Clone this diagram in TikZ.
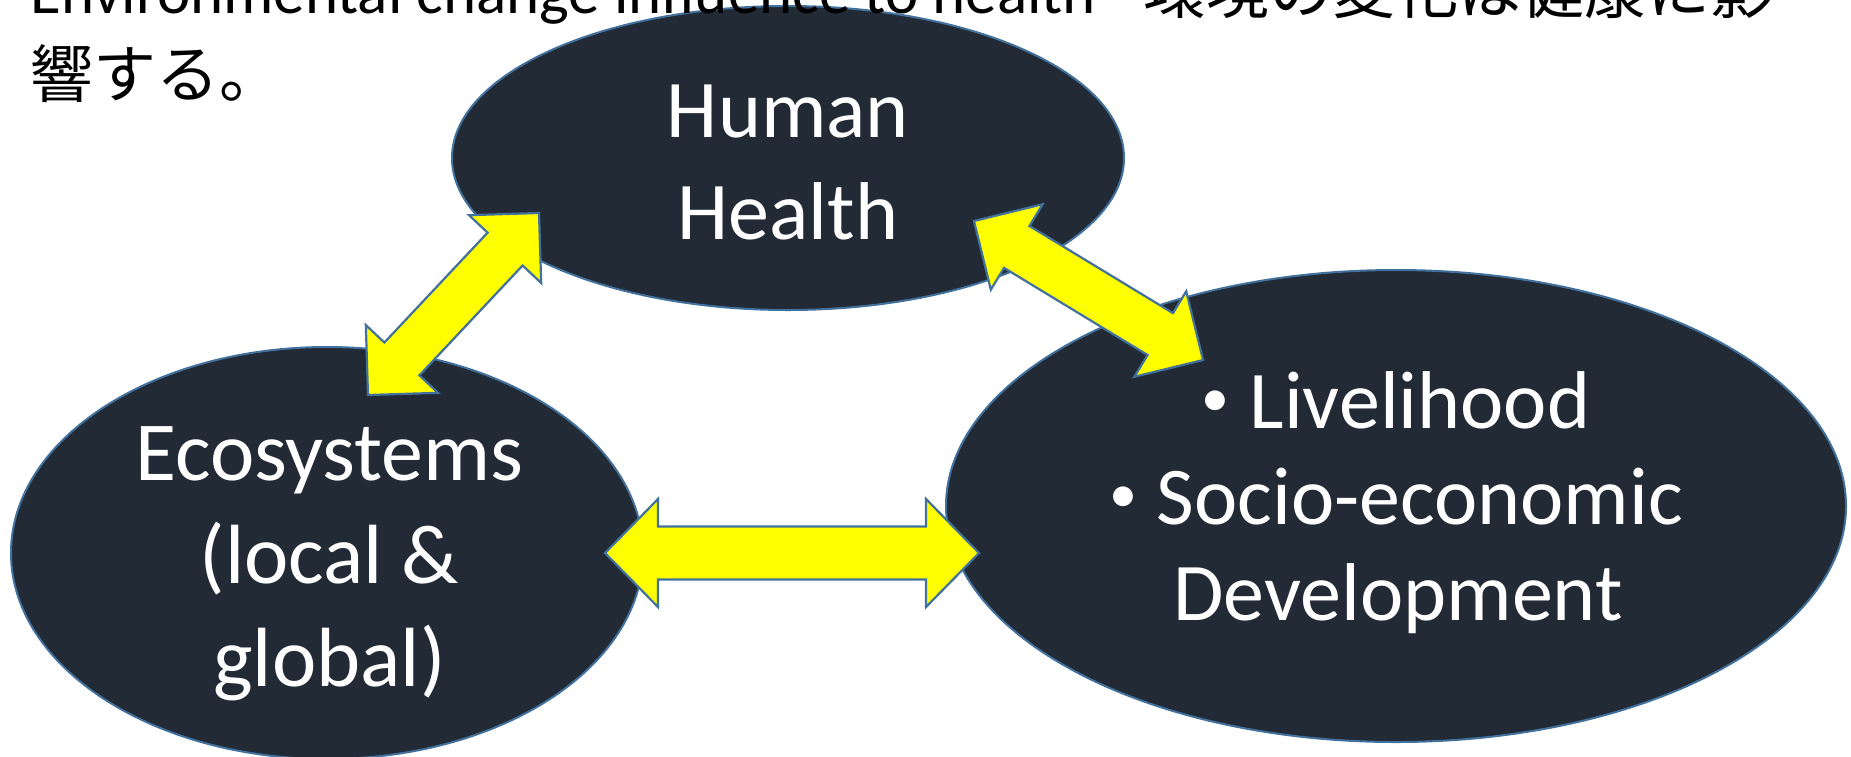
\documentclass[tikz,border=0pt]{standalone}
\usepackage{fontspec}
\setmainfont{Carlito}
\newfontfamily\cjk{Noto Sans CJK JP}
\usetikzlibrary{calc,shapes.geometric}
\definecolor{ellfill}{HTML}{222A35}
\definecolor{edgeblue}{HTML}{41719C}
\definecolor{arrowyellow}{HTML}{FFFF00}
\tikzset{
  ell/.style={ellipse, draw=edgeblue, line width=1pt, fill=ellfill, inner sep=0pt},
  fatarrow/.style={draw=edgeblue, line width=1.1pt, fill=arrowyellow, line join=miter},
  elltext/.style={text=white, align=center, anchor=base, inner sep=0pt, font={\fontsize{41pt}{51pt}\selectfont}},
  titletext/.style={text=black, align=left, anchor=base west, inner sep=0pt, font={\fontsize{31.5pt}{42pt}\selectfont}}
}
\newcommand\bulletmark{\makebox[10pt]{\fontsize{28pt}{28pt}\selectfont\raisebox{6pt}{•}}\hspace{12pt}}
\newcommand\dblarrow[5]{%
  \draw[fatarrow] (#1)
    -- ($(#1)!#3!(#2)!#4!90:(#2)$)
    -- ($(#1)!#3!(#2)!#5!90:(#2)$)
    -- ($(#2)!#3!(#1)!#5!-90:(#1)$)
    -- ($(#2)!#3!(#1)!#4!-90:(#1)$)
    -- (#2)
    -- ($(#2)!#3!(#1)!#4!90:(#1)$)
    -- ($(#2)!#3!(#1)!#5!90:(#1)$)
    -- ($(#1)!#3!(#2)!#5!-90:(#2)$)
    -- ($(#1)!#3!(#2)!#4!-90:(#2)$)
    -- cycle;}
\begin{document}
\begin{tikzpicture}[x=0.5pt, y=-0.5pt]
  \path[use as bounding box, clip] (0,0) rectangle (1851,756);
  \fill[white] (0,0) rectangle (1851,756);

  % ellipses
  \node[ell, minimum width=336pt, minimum height=152pt] (health) at (788,158) {};
  \node[ell, minimum width=316pt, minimum height=206pt] (eco) at (327,553) {};
  \node[ell, minimum width=450pt, minimum height=236pt] (live) at (1396,506) {};

  % arrow end points
  \coordinate (eh) at (368,395);
  \coordinate (he) at (539,213);
  \coordinate (hl) at (974,221);
  \coordinate (lh) at (1203,360);
  \coordinate (el) at (605,553);
  \coordinate (le) at (979,553);

  \dblarrow{eh}{he}{24.75pt}{24.75pt}{12pt}
  \dblarrow{hl}{lh}{25pt}{25pt}{12.25pt}
  \dblarrow{el}{le}{26.5pt}{27pt}{13.25pt}

  % texts (anchor = baseline of the last line)
  \node[elltext] (healthtext) at (788,239) {Human\\Health};
  \node[elltext, font={\fontsize{42pt}{51.5pt}\selectfont}] (ecotext) at (329.5,686) {Ecosystems\\(local \&\\global)};
  \node[elltext, font={\fontsize{41pt}{48pt}\selectfont}] (livetext) at (1398,620) {\bulletmark Livelihood\\\bulletmark Socio-economic\\Development};

  \node[titletext] (title) at (30,97) {Environmental change influence to health\hspace{0.75em}{\cjk 環境の変化は健康に影}\\{\cjk 響する。}};
\end{tikzpicture}
\end{document}
